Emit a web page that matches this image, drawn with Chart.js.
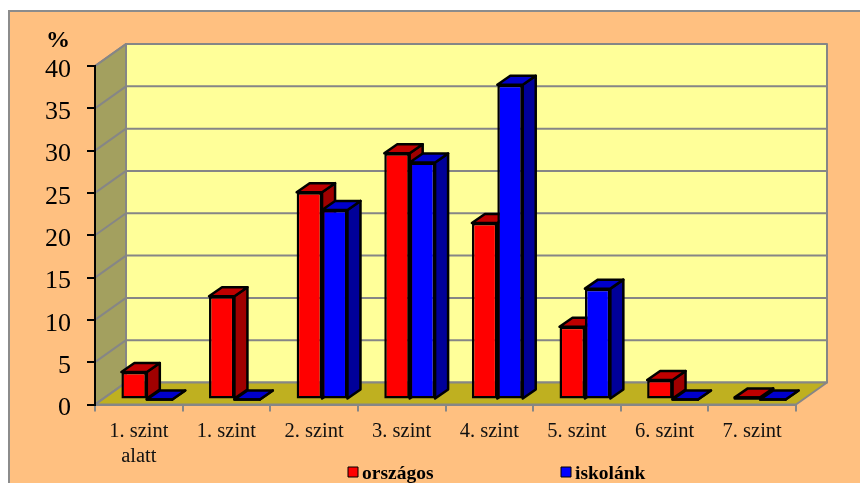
<!DOCTYPE html>
<html>
<head>
<meta charset="utf-8">
<style>
    html, body { margin: 0; padding: 0; background: #fff; overflow: hidden; }
    #wrap { position: relative; width: 860px; height: 483px; }
</style>
</head>
<body>
<div id="wrap"><canvas id="chart" width="860" height="483"></canvas></div>
<script src="https://cdn.jsdelivr.net/npm/chart.js@4"></script>
<script>
const categories = [['1. szint', 'alatt'], '1. szint', '2. szint', '3. szint', '4. szint', '5. szint', '6. szint', '7. szint'];
const orszagos = [3.25, 12.2, 24.5, 29.1, 20.85, 8.6, 2.3, 0.25];
const iskolank = [0, 0, 22.4, 28, 37.2, 13.1, 0, 0];
const seriesNames = ['országos', 'iskolánk'];
const yUnit = '%';

// front, side and top face colours of the 3D bars
const redFaces = ['#ff0000', '#a00000', '#c00000'];
const blueFaces = ['#0000ff', '#000099', '#0000cc'];

const serif = '"Liberation Serif", "Times New Roman", serif';
const wallDepth = { x: 31, y: 22 };
const barShift = { x: 8, y: 5 };
const barDepth = { x: 13, y: 9 };
const gridGray = '#868686';

function polygon(ctx, points, fill, stroke, width) {
    ctx.beginPath();
    points.forEach((p, i) => (i ? ctx.lineTo(p[0], p[1]) : ctx.moveTo(p[0], p[1])));
    ctx.closePath();
    if (fill) {
        ctx.fillStyle = fill;
        ctx.fill();
    }
    if (stroke) {
        ctx.strokeStyle = stroke;
        ctx.lineWidth = width;
        ctx.lineJoin = 'round';
        ctx.stroke();
    }
}

const scene3d = {
    id: 'scene3d',
    beforeDraw(chart) {
        const ctx = chart.ctx;
        const { left, right, top, bottom } = chart.chartArea;
        const dx = wallDepth.x, dy = wallDepth.y;

        // frame of the whole picture
        ctx.save();
        ctx.fillStyle = '#ffc080';
        ctx.fillRect(9, 11, 860, 483);
        ctx.strokeStyle = '#8c8c8c';
        ctx.lineWidth = 2;
        ctx.strokeRect(9, 11, 860, 483);

        // walls and floor
        polygon(ctx, [[left + dx, top - dy], [right + dx, top - dy], [right + dx, bottom - dy], [left + dx, bottom - dy]], '#ffff99', gridGray, 2);
        polygon(ctx, [[left, top], [left + dx, top - dy], [left + dx, bottom - dy], [left, bottom]], '#a3a05f', gridGray, 2);
        polygon(ctx, [[left, bottom], [left + dx, bottom - dy], [right + dx, bottom - dy], [right, bottom]], '#bfb020', gridGray, 2);

        // grid lines follow the value scale
        const yScale = chart.scales.y;
        ctx.strokeStyle = gridGray;
        ctx.lineWidth = 2;
        yScale.ticks.forEach(t => {
            const y = yScale.getPixelForValue(t.value);
            ctx.beginPath();
            ctx.moveTo(left, y);
            ctx.lineTo(left + dx, y - dy);
            if (t.value > 0) ctx.lineTo(right + dx, y - dy);
            ctx.stroke();
        });

        // unit above the axis
        ctx.fillStyle = '#000';
        ctx.font = 'bold 24px ' + serif;
        ctx.textAlign = 'center';
        ctx.textBaseline = 'alphabetic';
        ctx.fillText(yUnit, 58, 47);
        ctx.restore();

        // value labels sit a little below their tick marks
        if (!chart.labelsMoved) {
            yScale.getLabelItems().forEach(item => { item.options.translation[1] += 4; });
            chart.labelsMoved = true;
        }
    },
    beforeDatasetsDraw(chart) {
        const ctx = chart.ctx;
        ctx.save();
        ctx.translate(barShift.x, -barShift.y);
        const dx = barDepth.x, dy = barDepth.y;

        // side and top faces, bar fronts come after them
        categories.forEach((c, j) => {
            chart.data.datasets.forEach((ds, i) => {
                const bar = chart.getDatasetMeta(i).data[j];
                const l = bar.x - bar.width / 2, r = bar.x + bar.width / 2;
                const faces = i === 0 ? redFaces : blueFaces;
                polygon(ctx, [[r, bar.y], [r + dx, bar.y - dy], [r + dx, bar.base - dy], [r, bar.base]], faces[1], '#000', 2.5);
                polygon(ctx, [[l, bar.y], [l + dx, bar.y - dy], [r + dx, bar.y - dy], [r, bar.y]], faces[2], '#000', 2.5);
                if (bar.base - bar.y < 3) {
                    polygon(ctx, [[l, bar.y], [r, bar.y], [r, bar.base], [l, bar.base]], faces[0], '#000', 2.5);
                }
            });
        });
    },
    afterDatasetsDraw(chart) {
        chart.ctx.restore();
    },
    afterDraw(chart) {
        const ctx = chart.ctx;
        ctx.save();
        ctx.font = 'bold 19.5px ' + serif;
        ctx.textAlign = 'left';
        ctx.textBaseline = 'alphabetic';
        [[348, redFaces[0]], [561, blueFaces[0]]].forEach((item, i) => {
            polygon(ctx, [[item[0], 467], [item[0] + 10, 467], [item[0] + 10, 477], [item[0], 477]], item[1], '#000', 1);
            ctx.fillStyle = '#000';
            ctx.fillText(seriesNames[i], item[0] + 14, 479);
        });
        ctx.restore();
    }
};

new Chart(document.getElementById('chart').getContext('2d'), {
    type: 'bar',
    data: {
        labels: categories,
        datasets: [
            { label: seriesNames[0], data: orszagos, backgroundColor: redFaces[0] },
            { label: seriesNames[1], data: iskolank, backgroundColor: blueFaces[0] }
        ]
    },
    options: {
        responsive: false,
        animation: false,
        layout: { padding: { left: 0, right: 64, top: 66, bottom: 0 } },
        datasets: {
            bar: {
                barPercentage: 1,
                categoryPercentage: 0.58,
                borderColor: '#000',
                borderWidth: 2.5,
                borderSkipped: false,
                clip: false
            }
        },
        plugins: {
            legend: { display: false },
            tooltip: { enabled: false }
        },
        scales: {
            x: {
                afterFit(scale) { scale.height = 78.5; },
                grid: { color: gridGray, lineWidth: 2, drawOnChartArea: false, tickLength: 7 },
                border: { color: gridGray, width: 2 },
                ticks: {
                    color: '#111',
                    maxRotation: 0,
                    autoSkip: false,
                    padding: 8,
                    font: { family: serif, size: 20.5, lineHeight: 1.2 }
                }
            },
            y: {
                min: 0,
                max: 40,
                afterFit(scale) { scale.width = 95; },
                grid: { color: '#000', lineWidth: 2, drawOnChartArea: false, tickLength: 8 },
                border: { color: '#000', width: 2 },
                ticks: {
                    stepSize: 5,
                    color: '#000',
                    padding: 16,
                    font: { family: serif, size: 26 }
                }
            }
        }
    },
    plugins: [scene3d]
});
</script>
</body>
</html>
